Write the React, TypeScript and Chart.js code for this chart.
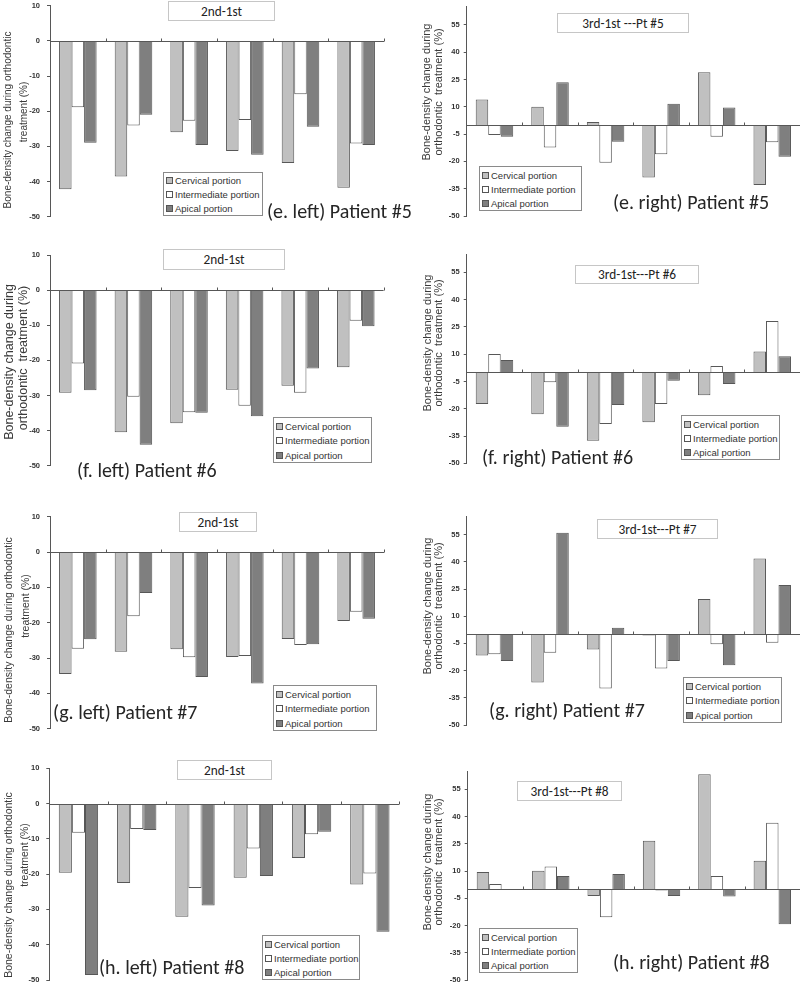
import React, { useEffect, useRef } from 'react';
import { Chart, registerables } from 'chart.js';

Chart.register(...registerables);

// ---------- data ----------
const CATEGORIES = ['1', '2', '3', '4', '5', '6'];
const SERIES_NAMES = ['Cervical portion', 'Intermediate portion', 'Apical portion'];
const LEFT_TICKS = [10, 0, -10, -20, -30, -40, -50];
const RIGHT_TICKS = [55, 40, 25, 10, -5, -20, -35, -50];

// Patient #5
const E_LEFT_CERVICAL = [-42.2, -38.6, -26.0, -31.3, -34.7, -41.8];
const E_LEFT_INTERMEDIATE = [-18.9, -24.1, -22.7, -22.5, -15.2, -29.2];
const E_LEFT_APICAL = [-29.0, -21.0, -29.6, -32.4, -24.4, -29.6];
const E_RIGHT_CERVICAL = [14.1, 10.1, 1.7, -28.8, 29.0, -33.0];
const E_RIGHT_INTERMEDIATE = [-5.5, -12.3, -20.7, -16.1, -6.4, -9.5];
const E_RIGHT_APICAL = [-6.4, 23.5, -9.2, 11.7, 9.7, -17.4];
// Patient #6
const F_LEFT_CERVICAL = [-29.2, -40.5, -37.9, -28.4, -27.2, -22.0];
const F_LEFT_INTERMEDIATE = [-20.9, -30.4, -34.8, -32.9, -29.2, -8.7];
const F_LEFT_APICAL = [-28.5, -44.0, -34.9, -35.9, -22.3, -10.3];
const F_RIGHT_CERVICAL = [-17.4, -23.1, -37.6, -27.5, -12.6, 11.4];
const F_RIGHT_INTERMEDIATE = [10.1, -5.5, -28.4, -17.4, 3.5, 28.2];
const F_RIGHT_APICAL = [6.8, -29.9, -18.0, -4.6, -6.4, 8.8];
// Patient #7
const G_LEFT_CERVICAL = [-34.5, -28.2, -27.5, -29.7, -24.6, -19.5];
const G_LEFT_INTERMEDIATE = [-27.4, -18.2, -29.8, -29.4, -26.3, -16.9];
const G_LEFT_APICAL = [-24.7, -11.6, -35.4, -37.2, -26.1, -18.9];
const G_RIGHT_CERVICAL = [-11.6, -26.5, -8.3, -0.6, 19.5, 41.9];
const G_RIGHT_INTERMEDIATE = [-11.0, -10.1, -29.8, -18.8, -5.5, -4.6];
const G_RIGHT_APICAL = [-14.7, 56.1, 3.7, -14.7, -17.1, 27.2];
// Patient #8
const H_LEFT_CERVICAL = [-19.6, -22.5, -32.1, -21.0, -15.4, -22.9];
const H_LEFT_INTERMEDIATE = [-8.3, -7.2, -23.9, -12.7, -8.7, -19.8];
const H_LEFT_APICAL = [-48.6, -7.5, -28.9, -20.5, -8.0, -36.3];
const H_RIGHT_CERVICAL = [9.4, 10.1, -3.7, 26.6, 63.3, 15.6];
const H_RIGHT_INTERMEDIATE = [2.8, 12.5, -15.4, -0.7, 7.2, 36.5];
const H_RIGHT_APICAL = [null, 7.3, 8.4, -3.7, -4.0, -19.3];

// ---------- styles ----------
const FILL = ['#c0c0c0', '#ffffff', '#7f7f7f'];
const EDGE = '#575757';
const SANS = '"Liberation Sans", Arial, Helvetica, sans-serif';
const CAL = 'Carlito, Lato, "Open Sans", sans-serif';

type YLine = { text: string; x: number; y: number; size: number };
type PanelDef = {
  key: string;
  title: string;
  patient: string;
  series: (number | null)[][];
  ticks: number[];
  min: number;
  max: number;
  axisX: number;
  xRight: number;
  yTop: number;
  yBottom: number;
  titleBox: number[];
  legendBox: number[];
  label: number[];
  yTitle: YLine[];
  tickLen: number;
  tickPad: number;
};

const LEFT_T1 = 'Bone-density change during orthodontic';
const LEFT_T2 = 'treatment (%)';
const RIGHT_T1 = 'Bone-density change during';
const RIGHT_T2 = 'orthodontic  treatment (%)';

const PANELS: PanelDef[] = [
  {
    key: 'e-left', title: '2nd-1st', patient: '(e. left) Patient #5',
    series: [E_LEFT_CERVICAL, E_LEFT_INTERMEDIATE, E_LEFT_APICAL],
    ticks: LEFT_TICKS, min: -50, max: 10,
    axisX: 50, xRight: 384, yTop: 5.7, yBottom: 216.7,
    titleBox: [168, 1, 275, 21], legendBox: [163, 172, 263, 216], label: [267, 211],
    yTitle: [
      { text: LEFT_T1, x: 8, y: 120, size: 10 },
      { text: LEFT_T2, x: 24, y: 112, size: 10 },
    ],
    tickLen: 3, tickPad: 7,
  },
  {
    key: 'e-right', title: '3rd-1st ---Pt #5', patient: '(e. right) Patient #5',
    series: [E_RIGHT_CERVICAL, E_RIGHT_INTERMEDIATE, E_RIGHT_APICAL],
    ticks: RIGHT_TICKS, min: -50, max: 65,
    axisX: 466.7, xRight: 800, yTop: 6.8, yBottom: 216,
    titleBox: [557, 13, 689, 33], legendBox: [479, 166, 582, 211], label: [613, 202],
    yTitle: [
      { text: RIGHT_T1, x: 426, y: 92, size: 11 },
      { text: RIGHT_T2, x: 437.5, y: 92, size: 11 },
    ],
    tickLen: 3, tickPad: 4,
  },
  {
    key: 'f-left', title: '2nd-1st', patient: '(f. left) Patient #6',
    series: [F_LEFT_CERVICAL, F_LEFT_INTERMEDIATE, F_LEFT_APICAL],
    ticks: LEFT_TICKS, min: -50, max: 10,
    axisX: 50, xRight: 383.6, yTop: 255, yBottom: 465.7,
    titleBox: [163, 249, 285, 270], legendBox: [273, 417, 372, 463], label: [77, 470],
    yTitle: [
      { text: RIGHT_T1, x: 8.5, y: 362, size: 12.5 },
      { text: RIGHT_T2, x: 22.5, y: 358, size: 12.5 },
    ],
    tickLen: 3, tickPad: 7,
  },
  {
    key: 'f-right', title: '3rd-1st---Pt #6', patient: '(f. right) Patient #6',
    series: [F_RIGHT_CERVICAL, F_RIGHT_INTERMEDIATE, F_RIGHT_APICAL],
    ticks: RIGHT_TICKS, min: -50, max: 65,
    axisX: 466.7, xRight: 800, yTop: 254.1, yBottom: 463.3,
    titleBox: [575, 265, 699, 284], legendBox: [681, 415, 780, 460], label: [482, 457],
    yTitle: [
      { text: RIGHT_T1, x: 426.5, y: 343, size: 11 },
      { text: RIGHT_T2, x: 438, y: 343, size: 11 },
    ],
    tickLen: 3, tickPad: 4,
  },
  {
    key: 'g-left', title: '2nd-1st', patient: '(g. left) Patient #7',
    series: [G_LEFT_CERVICAL, G_LEFT_INTERMEDIATE, G_LEFT_APICAL],
    ticks: LEFT_TICKS, min: -50, max: 10,
    axisX: 50, xRight: 384, yTop: 516.7, yBottom: 728.7,
    titleBox: [179, 512, 257, 532], legendBox: [273, 685, 377, 731], label: [53, 712],
    yTitle: [
      { text: LEFT_T1, x: 8, y: 630, size: 10.5 },
      { text: LEFT_T2, x: 25, y: 606, size: 10.5 },
    ],
    tickLen: 3, tickPad: 7,
  },
  {
    key: 'g-right', title: '3rd-1st---Pt #7', patient: '(g. right) Patient #7',
    series: [G_RIGHT_CERVICAL, G_RIGHT_INTERMEDIATE, G_RIGHT_APICAL],
    ticks: RIGHT_TICKS, min: -50, max: 65,
    axisX: 466.7, xRight: 800, yTop: 516.5, yBottom: 725,
    titleBox: [597, 519, 718, 539], legendBox: [683, 677, 782, 723], label: [489, 710],
    yTitle: [
      { text: RIGHT_T1, x: 426.5, y: 606, size: 11 },
      { text: RIGHT_T2, x: 438, y: 606, size: 11 },
    ],
    tickLen: 3, tickPad: 4,
  },
  {
    key: 'h-left', title: '2nd-1st', patient: '(h. left) Patient #8',
    series: [H_LEFT_CERVICAL, H_LEFT_INTERMEDIATE, H_LEFT_APICAL],
    ticks: LEFT_TICKS, min: -50, max: 10,
    axisX: 49.3, xRight: 399, yTop: 768.3, yBottom: 980,
    titleBox: [177, 760, 272, 780], legendBox: [262, 935, 360, 980], label: [99, 967],
    yTitle: [
      { text: LEFT_T1, x: 8, y: 885, size: 10.5 },
      { text: LEFT_T2, x: 24, y: 855, size: 10.5 },
    ],
    tickLen: 3, tickPad: 7,
  },
  {
    key: 'h-right', title: '3rd-1st---Pt #8', patient: '(h. right) Patient #8',
    series: [H_RIGHT_CERVICAL, H_RIGHT_INTERMEDIATE, H_RIGHT_APICAL],
    ticks: RIGHT_TICKS, min: -50, max: 65,
    axisX: 467.7, xRight: 800, yTop: 771.1, yBottom: 980,
    titleBox: [517, 781, 622, 801], legendBox: [479, 928, 578, 973], label: [613, 962],
    yTitle: [
      { text: RIGHT_T1, x: 426.5, y: 862, size: 11 },
      { text: RIGHT_T2, x: 438, y: 862, size: 11 },
    ],
    tickLen: 3, tickPad: 4,
  },
];

// zero line with small category separators, drawn through the scales
const zeroAxisPlugin = {
  id: 'zeroAxis',
  afterDatasetsDraw(chart: any) {
    const { ctx, chartArea, scales } = chart;
    const y0 = Math.round(scales.y.getPixelForValue(0)) + 0.5;
    ctx.save();
    ctx.strokeStyle = EDGE;
    ctx.lineWidth = 1;
    ctx.beginPath();
    ctx.moveTo(chartArea.left, y0);
    ctx.lineTo(chartArea.right, y0);
    const n = chart.data.labels.length;
    for (let i = 1; i <= n; i++) {
      const bx = Math.round(scales.x.getPixelForValue(i - 0.5)) + 0.5;
      ctx.moveTo(bx, y0);
      ctx.lineTo(bx, y0 - 3);
    }
    ctx.stroke();
    ctx.restore();
  },
};

function BarChart({ p }: { p: PanelDef }) {
  const ref = useRef<HTMLCanvasElement>(null);
  const cl = Math.floor(p.axisX) - 45;
  const ct = Math.floor(p.yTop) - 12;
  const cw = Math.ceil(p.xRight - cl) + 3;
  const ch = Math.ceil(p.yBottom - ct) + 12;
  useEffect(() => {
    const chart = new Chart(ref.current as HTMLCanvasElement, {
      type: 'bar',
      data: {
        labels: CATEGORIES,
        datasets: p.series.map((d, i) => ({
          label: SERIES_NAMES[i],
          data: d,
          backgroundColor: FILL[i],
          borderColor: EDGE,
          borderWidth: 1,
          barPercentage: 1,
          categoryPercentage: 0.675,
        })),
      },
      options: {
        responsive: false,
        animation: false,
        devicePixelRatio: 1,
        layout: {
          padding: {
            left: 0,
            top: p.yTop - ct,
            right: cl + cw - p.xRight,
            bottom: ct + ch - p.yBottom,
          },
        },
        plugins: {
          legend: { display: false },
          tooltip: { enabled: false },
          title: { display: false },
        },
        scales: {
          x: { display: false },
          y: {
            min: p.min,
            max: p.max,
            afterBuildTicks: (s: any) => {
              s.ticks = p.ticks.map((v) => ({ value: v }));
            },
            afterFit: (s: any) => {
              s.width = p.axisX - cl;
            },
            grid: {
              display: true,
              drawOnChartArea: false,
              drawTicks: true,
              tickLength: p.tickLen,
              color: EDGE,
            },
            border: { display: true, color: EDGE, width: 1 },
            ticks: {
              padding: p.tickPad,
              color: '#333',
              font: { family: SANS, size: 7.5, weight: 'bold' },
              callback: (v: any) => String(v),
            },
            title: { display: false },
          },
        },
      } as any,
      plugins: [zeroAxisPlugin],
    });
    return () => chart.destroy();
  }, []);
  return (
    <canvas
      ref={ref}
      width={cw}
      height={ch}
      style={{ position: 'absolute', left: cl, top: ct, width: cw, height: ch, display: 'block' }}
    />
  );
}

function Legend({ box }: { box: number[] }) {
  const [x1, y1, x2, y2] = box;
  const h = y2 - y1;
  const rows = [0.2, 0.52, 0.84];
  return (
    <div
      style={{
        position: 'absolute', left: x1, top: y1, width: x2 - x1, height: h,
        border: '1px solid #8a8a8a', boxSizing: 'border-box', background: '#fff',
      }}
    >
      {SERIES_NAMES.map((n, i) => (
        <div
          key={n}
          style={{
            position: 'absolute', left: 2, top: h * rows[i] - 8, height: 14,
            display: 'flex', alignItems: 'center', whiteSpace: 'nowrap',
            fontFamily: SANS, fontSize: 9.5, color: '#333',
          }}
        >
          <span
            style={{
              display: 'inline-block', width: 5, height: 5, background: FILL[i],
              border: '1px solid #555', marginRight: 2,
            }}
          />
          {n}
        </div>
      ))}
    </div>
  );
}

function TitleBox({ box, text }: { box: number[]; text: string }) {
  const [x1, y1, x2, y2] = box;
  return (
    <div
      style={{
        position: 'absolute', left: x1, top: y1, width: x2 - x1, height: y2 - y1,
        border: '1px solid #c6c6c6', boxSizing: 'border-box', background: '#fff',
        display: 'flex', alignItems: 'center', justifyContent: 'center',
        fontFamily: CAL, fontSize: 13.3, color: '#222', whiteSpace: 'pre',
      }}
    >
      {text}
    </div>
  );
}

function YTitle({ l }: { l: YLine }) {
  return (
    <div
      style={{
        position: 'absolute', left: l.x, top: l.y,
        transform: 'translate(-50%, -50%) rotate(-90deg)',
        whiteSpace: 'pre', fontFamily: SANS, fontSize: l.size, lineHeight: 1,
        color: '#3a3a3a',
      }}
    >
      {l.text}
    </div>
  );
}

function Panel({ p }: { p: PanelDef }) {
  return (
    <>
      <BarChart p={p} />
      <TitleBox box={p.titleBox} text={p.title} />
      <Legend box={p.legendBox} />
      {p.yTitle.map((l, i) => (
        <YTitle key={i} l={l} />
      ))}
      <div
        style={{
          position: 'absolute', left: p.label[0], top: p.label[1] - 13, height: 26,
          lineHeight: '26px', fontFamily: CAL, fontSize: 20, color: '#262626',
          whiteSpace: 'nowrap',
        }}
      >
        {p.patient}
      </div>
    </>
  );
}

export default function App() {
  return (
    <div
      style={{
        position: 'absolute', left: 0, top: 0, width: 800, height: 984,
        overflow: 'hidden', background: '#fff',
      }}
    >
      {PANELS.map((p) => (
        <Panel key={p.key} p={p} />
      ))}
    </div>
  );
}
